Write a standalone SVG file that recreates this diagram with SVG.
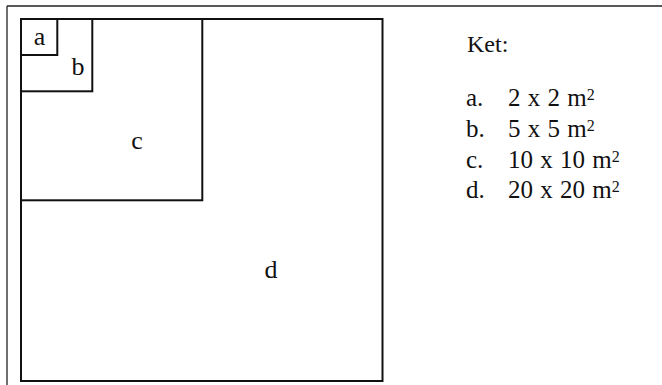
<svg xmlns="http://www.w3.org/2000/svg" width="662" height="385" viewBox="0 0 662 385">
<style>
.frame{stroke:#222;stroke-width:1.3;fill:none}
.sq{stroke:#111;stroke-width:2;fill:none}
text{font-family:"Liberation Serif","Times New Roman",serif;font-size:25px;fill:#111}
.lbl{text-anchor:middle;font-size:26px}
.num{word-spacing:1px}
.sup{font-size:16px}
</style>
<rect width="662" height="385" fill="#fff"/>
<g id="frame">
<line class="frame" x1="7" y1="6" x2="662" y2="6"/>
<line class="frame" x1="7" y1="6" x2="7" y2="385"/>
</g>
<g id="square-d">
<rect class="sq" x="21" y="19" width="361.5" height="362"/>
<text class="lbl" x="271" y="278">d</text>
</g>
<g id="square-c">
<rect class="sq" x="21" y="19" width="181.3" height="181.3"/>
<text class="lbl" x="137" y="149">c</text>
</g>
<g id="square-b">
<rect class="sq" x="21" y="19" width="71.3" height="72.3"/>
<text class="lbl" x="78" y="75">b</text>
</g>
<g id="square-a">
<rect class="sq" x="21" y="19" width="36.3" height="36"/>
<text class="lbl" x="39.5" y="45">a</text>
</g>
<g id="legend">
<text x="467" y="52" style="font-size:24px">Ket:</text>
<text x="466" y="106">a.</text><text class="num" x="508" y="106">2 x 2 m<tspan class="sup" dy="-6">2</tspan></text>
<text x="466" y="137">b.</text><text class="num" x="508" y="137">5 x 5 m<tspan class="sup" dy="-6">2</tspan></text>
<text x="466" y="168">c.</text><text class="num" x="508" y="168">10 x 10 m<tspan class="sup" dy="-6">2</tspan></text>
<text x="466" y="198">d.</text><text class="num" x="508" y="198">20 x 20 m<tspan class="sup" dy="-6">2</tspan></text>
</g>
</svg>
